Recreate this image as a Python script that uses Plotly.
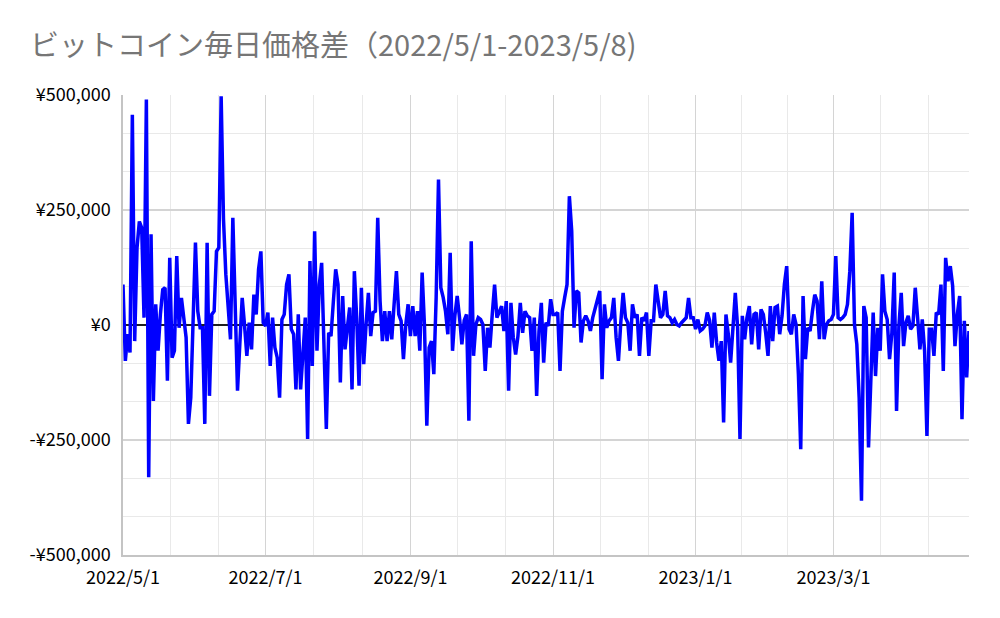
import pandas as pd
import plotly.graph_objects as go

# ---- data (daily price difference, thousand yen), from 2022/5/1 ----
start_date = "2022-05-01"
diff_k = [
    88, -78, -20, -60, 457, -35, 168, 225, 211, 16,
    490, -331, 197, -165, 45, -56, 23, 77, 81, -121,
    146, -71, -56, 150, -6, 59, 16, -27, -215, -158,
    10, 179, 30, -6, -6, -215, 179, -154, 23, 30,
    160, 168, 497, 230, 110, 40, -31, 233, 60, -143,
    -40, 59, 0, -67, 5, -53, 66, 23, 121, 160,
    5, -2, 27, -89, 16, -49, -71, -158, 12, 23,
    88, 110, -9, -20, -140, 23, -140, -71, 16, -248,
    139, -89, 204, -56, 88, 135, -40, -226, -17, -24,
    50, 121, 88, -125, 63, -53, -6, 38, -140, 117,
    16, -132, 81, -85, 1, 70, -24, 27, 30, 233,
    52, -35, 30, -35, 30, -31, 45, 117, 23, 9,
    -74, 1, 45, -24, 41, -24, 30, -56, 114, -2,
    -219, -49, -35, -107, 60, 316, 81, 60, 30, -20,
    157, -56, 20, 63, 16, -42, 10, 23, -208, 182,
    -67, 1, 16, 12, 1, -100, -6, -49, 23, 88,
    16, 30, 41, -13, 52, -143, 48, -27, -64, -24,
    48, -17, 30, 20, 16, -56, 16, -154, -13, 48,
    -82, 5, -2, 56, 23, 23, 27, -100, 30, 60,
    88, 280, 204, -6, 74, 70, -38, 9, 20, 9,
    -13, 16, 38, 59, 74, -118, 45, -6, 9, 16,
    59, -27, -78, 5, 70, 16, 5, -56, 45, 16,
    23, -67, 16, 9, 27, -67, 9, 9, 88, 52,
    16, 23, 74, 20, 16, 5, 12, 1, -2, 5,
    12, 16, 59, 16, 16, -9, 12, -13, -9, -2,
    27, 10, -49, 27, -38, -78, -35, -212, 23, -20,
    -82, 1, 70, -6, -248, 20, -31, 16, 41, -42,
    23, 27, -53, 34, 23, -17, -67, 41, -35, 38,
    41, -20, 20, 88, 128, -9, -20, 23, 1, -107,
    -270, 63, -74, -6, -13, 30, 66, 52, -31, 95,
    -31, 1, 9, 12, 23, 150, 16, 12, 16, 23,
    45, 117, 244, 1, -42, -158, -382, 41, 16, -266,
    -93, 27, -111, -6, -56, 110, 30, 12, -74, -17,
    114, -187, -2, 70, -46, 5, 20, -9, -2, 81,
    16, -53, 12, -56, -241, -9, -9, -67, 27, 23,
    88, -100, 146, 95, 128, 85, -46, 23, 63, -205,
    9, -114, -13,
]

x_tick_dates = ["2022-05-01", "2022-07-01", "2022-09-01", "2022-11-01",
                "2023-01-01", "2023-03-01"]
x_tick_labels = ["2022/5/1", "2022/7/1", "2022/9/1", "2022/11/1",
                 "2023/1/1", "2023/3/1"]
y_tick_vals = [-500000, -250000, 0, 250000, 500000]
y_tick_labels = ["-¥500,000", "-¥250,000", "¥0", "¥250,000", "¥500,000"]
title_text = "ビットコイン毎日価格差（2022/5/1-2023/5/8)"

dates = pd.date_range(start_date, periods=len(diff_k), freq="D")
values = [v * 1000 for v in diff_k]

# minor vertical gridlines: thirds between the 2-month major ticks
bounds = pd.to_datetime(x_tick_dates + ["2023-05-01"])
minor_x = []
for a, b in zip(bounds[:-1], bounds[1:]):
    minor_x.append(a + (b - a) / 3)
    minor_x.append(a + 2 * (b - a) / 3)

FONT = "Noto Sans CJK JP"

fig = go.Figure()
fig.add_trace(go.Scatter(
    x=dates, y=values, mode="lines",
    line=dict(color="#0000FF", width=3.5),
    hoverinfo="x+y", showlegend=False,
))

# the page adds an 8px body margin, so the layout is shifted up/left by 8px
fig.update_layout(
    width=1000, height=618,
    margin=dict(l=115, r=39, t=87, b=71),
    paper_bgcolor="white", plot_bgcolor="white",
    font=dict(family=FONT, size=18, color="#000000"),
    title=dict(text=title_text, x=22 / 1000, xref="container", xanchor="left",
               y=1 - 38 / 618, yref="container", yanchor="middle",
               font=dict(family=FONT, size=29, color="#767676")),
)

fig.update_xaxes(
    type="date",
    range=[dates[0], dates[-1]],
    tickmode="array", tickvals=x_tick_dates, ticktext=x_tick_labels,
    showgrid=True, gridcolor="#d4d4d4", gridwidth=1,
    minor=dict(tickmode="array", tickvals=minor_x, showgrid=True,
               gridcolor="#e9e9e9", gridwidth=1),
    showline=True, linecolor="#c4c4c4", linewidth=1.5,
    ticks="", ticklabelstandoff=6,
    tickfont=dict(family=FONT, size=18, color="#000000"),
    zeroline=False,
)

fig.update_yaxes(
    range=[-500000, 500000],
    tickmode="array", tickvals=y_tick_vals, ticktext=y_tick_labels,
    showgrid=True, gridcolor="#d4d4d4", gridwidth=1.5,
    minor=dict(dtick=250000 / 3, tick0=0, showgrid=True,
               gridcolor="#e9e9e9", gridwidth=1),
    showline=True, linecolor="#c4c4c4", linewidth=1.5,
    zeroline=True, zerolinecolor="#202020", zerolinewidth=1.5,
    ticks="", ticklabelstandoff=7,
    tickfont=dict(family=FONT, size=18, color="#000000"),
)

fig.write_html("out.html")
